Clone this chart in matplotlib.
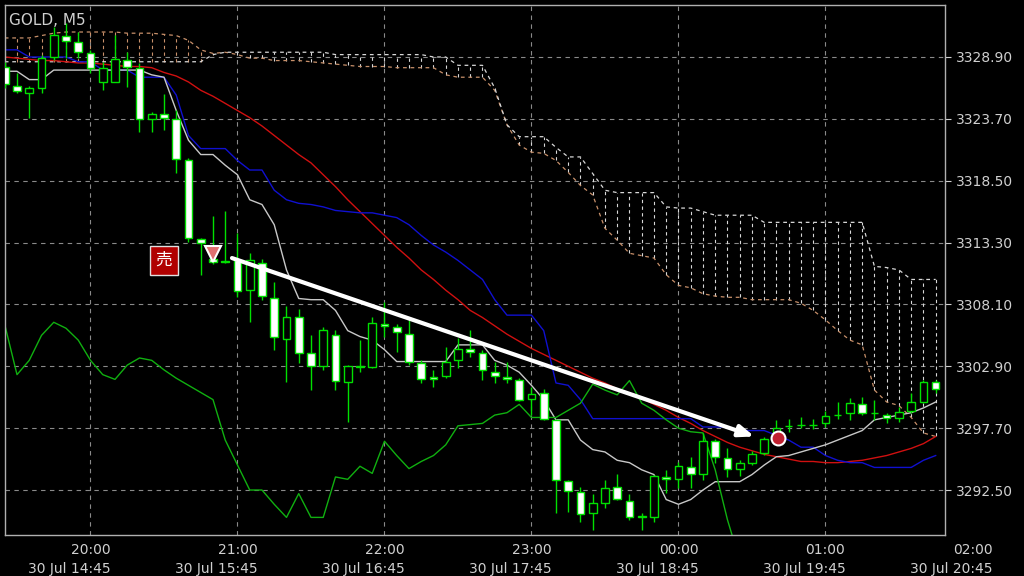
import matplotlib
matplotlib.use("Agg")
import matplotlib.pyplot as plt
import numpy as np

opens = [3328.06,3326.46,3325.87,3326.29,3328.90,3330.66,3330.16,3329.24,3326.80,3326.80,
 3328.65,3327.97,3323.69,3324.11,3323.69,3320.24,3313.60,3311.92,3311.75,3311.83,
 3309.31,3311.58,3308.64,3305.19,3307.04,3304.02,3302.92,3305.53,3301.58,3302.92,
 3302.84,3306.45,3306.20,3305.61,3303.18,3302.00,3302.08,3303.43,3304.35,3304.02,
 3302.42,3302.00,3301.75,3300.15,3300.65,3298.38,3293.26,3292.33,3290.57,3291.41,
 3292.75,3291.58,3290.23,3290.23,3293.59,3293.43,3294.43,3293.85,3296.62,3295.19,
 3294.27,3294.77,3295.61,3297.29,3297.88,3297.96,3297.96,3298.13,3298.80,3298.97,
 3299.73,3298.97,3298.80,3298.55,3299.14,3299.90,3301.58]
highs = [3328.48,3327.55,3326.46,3329.07,3331.42,3331.76,3331.00,3329.49,3328.48,3330.75,
 3329.32,3328.39,3324.28,3325.79,3324.44,3320.41,3313.68,3315.53,3315.95,3314.10,
 3312.42,3311.92,3309.98,3307.97,3307.72,3305.53,3306.20,3305.95,3303.01,3305.11,
 3307.04,3308.30,3306.45,3307.04,3303.43,3302.59,3304.52,3305.28,3305.95,3304.27,
 3303.26,3303.26,3301.92,3301.16,3300.99,3298.47,3293.34,3292.75,3292.16,3293.34,
 3293.85,3292.16,3290.57,3293.76,3294.18,3294.85,3295.27,3297.29,3296.79,3296.03,
 3295.02,3295.78,3296.96,3298.38,3298.47,3298.64,3298.47,3299.14,3299.90,3300.23,
 3300.32,3300.07,3298.97,3299.48,3300.65,3301.75,3301.75]
lows = [3326.29,3325.87,3323.77,3325.87,3328.65,3328.81,3328.81,3327.55,3326.12,3326.80,
 3326.38,3322.59,3322.59,3322.76,3319.15,3313.35,3310.57,3311.50,3311.58,3308.72,
 3306.62,3308.47,3304.27,3301.58,3303.18,3300.91,3302.59,3300.91,3298.22,3302.42,
 3302.76,3305.36,3304.10,3303.01,3301.49,3301.16,3301.92,3302.76,3303.68,3301.75,
 3301.49,3301.49,3299.98,3298.80,3298.38,3290.57,3290.65,3289.81,3289.14,3290.99,
 3291.66,3289.98,3289.14,3289.81,3292.25,3292.67,3292.67,3293.34,3294.77,3293.59,
 3293.68,3294.60,3295.44,3296.70,3297.38,3297.71,3297.63,3297.80,3298.47,3298.38,
 3298.80,3298.38,3298.13,3298.22,3298.97,3299.81,3300.65]
closes = [3326.63,3326.04,3326.29,3328.81,3330.75,3330.24,3329.32,3327.97,3327.97,3328.73,
 3328.06,3323.69,3324.11,3323.77,3320.32,3313.68,3313.26,3311.67,3311.70,3309.23,
 3311.83,3308.81,3305.36,3307.04,3304.02,3302.92,3305.95,3301.66,3302.92,3302.88,
 3306.54,3306.29,3305.78,3303.26,3301.83,3301.83,3303.26,3304.35,3304.10,3302.59,
 3302.08,3301.83,3300.07,3300.57,3298.47,3293.34,3292.42,3290.48,3291.41,3292.67,
 3291.74,3290.23,3290.28,3293.68,3293.43,3294.52,3293.85,3296.62,3295.27,3294.27,
 3294.77,3295.53,3296.79,3297.71,3297.92,3298.00,3298.00,3298.72,3298.84,3299.81,
 3298.97,3299.01,3298.55,3299.06,3299.90,3301.58,3300.99]

ma_red = [3328.9,3328.8,3328.7,3328.6,3328.6,3328.5,3328.4,3328.4,3328.3,3328.2,
 3328.1,3328.1,3328.0,3327.6,3327.3,3326.8,3326.1,3325.6,3325.0,3324.4,
 3323.8,3323.1,3322.3,3321.5,3320.7,3320.0,3319.0,3318.0,3316.9,3315.9,
 3314.9,3313.9,3312.9,3312.0,3311.0,3310.2,3309.3,3308.5,3307.6,3307.0,
 3306.3,3305.6,3305.0,3304.4,3303.9,3303.4,3302.9,3302.4,3301.9,3301.5,
 3301.0,3300.6,3300.2,3299.7,3299.2,3298.6,3298.1,3297.5,3297.0,3296.5,
 3296.1,3295.8,3295.5,3295.3,3295.1,3294.9,3294.9,3294.8,3294.8,3294.9,
 3295.0,3295.2,3295.4,3295.7,3296.0,3296.4,3297.0]
kijun = [3329.5,3329.5,3328.9,3328.9,3328.9,3328.9,3328.5,3328.5,3327.8,3327.8,
 3327.8,3327.2,3327.2,3327.2,3325.7,3322.3,3321.2,3321.2,3321.2,3320.2,
 3319.4,3319.4,3317.7,3316.9,3316.6,3316.5,3316.3,3316.0,3315.9,3315.8,
 3315.8,3315.6,3315.4,3314.8,3313.9,3313.1,3312.5,3311.8,3311.0,3310.2,
 3308.5,3307.2,3307.2,3307.2,3305.9,3301.5,3301.3,3300.1,3298.5,3298.5,
 3298.5,3298.5,3298.5,3298.5,3298.5,3298.5,3298.5,3297.8,3297.8,3297.8,
 3297.5,3297.5,3297.5,3297.1,3296.7,3296.1,3296.1,3295.4,3295.0,3294.8,
 3294.8,3294.4,3294.4,3294.4,3294.4,3295.0,3295.4]
tenkan = [3327.7,3327.7,3327.0,3327.0,3327.8,3327.8,3327.8,3327.8,3327.8,3327.8,
 3327.8,3327.8,3327.4,3327.2,3324.4,3321.9,3320.7,3320.7,3319.8,3319.0,
 3316.9,3316.5,3314.8,3311.0,3308.6,3308.5,3308.5,3307.6,3305.9,3305.4,
 3305.1,3304.3,3303.3,3303.3,3303.3,3303.3,3303.3,3304.7,3304.7,3304.7,
 3303.4,3303.0,3302.4,3301.3,3300.1,3298.4,3298.4,3296.7,3295.9,3295.7,
 3295.0,3294.8,3294.2,3293.8,3291.7,3291.3,3291.7,3292.5,3293.2,3293.2,
 3293.2,3293.8,3294.6,3295.3,3295.4,3295.7,3296.0,3296.3,3296.7,3297.1,
 3297.5,3298.4,3298.6,3298.8,3299.0,3299.4,3299.9]
chikou = [3306.4,3302.2,3303.4,3305.5,3306.6,3306.1,3305.1,3303.4,3302.2,3301.8,
 3303.0,3303.6,3303.4,3302.6,3301.9,3301.3,3300.7,3300.1,3296.7,3294.6,
 3292.5,3292.5,3291.3,3290.2,3292.2,3290.2,3290.2,3293.6,3293.4,3294.5,
 3293.9,3296.6,3295.4,3294.3,3294.9,3295.4,3296.3,3297.9,3298.0,3298.1,
 3298.8,3299.0,3299.7,3298.6,3298.6,3298.6,3299.2,3299.8,3301.4,3300.9,
 3300.5,3301.7,3299.8,3299.2,3298.4,3297.7,3297.4,3297.3,3294.2,3290.0,3286.6]
span_a = [3330.5,3330.5,3330.5,3330.7,3330.9,3331.0,3331.0,3331.0,3331.0,3331.0,
 3330.9,3330.9,3330.9,3330.8,3330.7,3330.3,3329.5,3329.2,3329.3,3329.1,
 3328.8,3328.8,3328.6,3328.6,3328.6,3328.5,3328.4,3328.3,3328.2,3328.1,
 3328.1,3328.1,3328.0,3328.0,3328.0,3328.0,3327.4,3327.2,3327.2,3327.2,
 3326.1,3323.2,3321.5,3320.9,3320.8,3320.2,3319.2,3318.1,3317.3,3314.5,
 3313.5,3312.4,3312.2,3312.0,3310.6,3309.7,3309.5,3309.0,3308.8,3308.7,
 3308.7,3308.5,3308.5,3308.5,3308.5,3308.2,3307.6,3306.8,3305.9,3305.1,
 3304.7,3300.9,3299.9,3299.6,3298.6,3297.3,3297.0]
span_b = [3328.5,3328.5,3328.5,3328.5,3328.5,3328.5,3328.5,3328.5,3328.5,3328.5,
 3328.5,3328.5,3328.5,3328.5,3328.5,3328.5,3328.5,3329.1,3329.3,3329.3,
 3329.3,3329.3,3329.3,3329.3,3329.3,3329.3,3329.3,3329.1,3329.1,3329.1,
 3329.1,3329.1,3329.1,3329.1,3329.1,3328.9,3328.9,3328.2,3328.2,3328.2,
 3326.3,3323.2,3322.2,3322.2,3322.2,3321.3,3320.5,3320.5,3319.1,3317.7,
 3317.5,3317.5,3317.5,3317.5,3316.3,3316.2,3316.2,3315.9,3315.6,3315.6,
 3315.6,3315.6,3315.0,3315.0,3315.0,3315.0,3315.0,3315.0,3315.0,3315.0,
 3315.0,3311.3,3311.2,3311.0,3310.2,3310.2,3310.2]

price_ticks = [3328.90,3323.70,3318.50,3313.30,3308.10,3302.90,3297.70,3292.50]
hour_pos = [7,19,31,43,55,67,79]
hour_labels = ["20:00","21:00","22:00","23:00","00:00","01:00","02:00"]
date_pos = [5.3,17.3,29.3,41.3,53.3,65.3,77.3]
date_labels = ["30 Jul 14:45","30 Jul 15:45","30 Jul 16:45","30 Jul 17:45",
               "30 Jul 18:45","30 Jul 19:45","30 Jul 20:45"]
arrow_start = (18.55, 3312.0)
arrow_end = (61.2, 3297.0)
sell_label_pos = (13.0, 3311.8)
sell_marker = (17.0, 3312.3)
exit_marker = (63.1, 3296.9)

GRID = "#8a8a8a"
TXT = "#d0d0d0"
fig = plt.figure(figsize=(10.24, 5.76), dpi=100, facecolor="black")
ax = fig.add_axes([5/1024, 41/576, 940/1024, 530/576], facecolor="black")
ax.set_xlim(0.02, 76.76)
ax.set_ylim(3288.72, 3333.27)

# cloud
n = len(span_a)
xs = np.arange(n)
a = np.array(span_a); b = np.array(span_b)
for i in range(n):
    col = "#c8906a" if a[i] > b[i] else "#d8d8d8"
    ax.vlines(i, min(a[i], b[i]), max(a[i], b[i]), color=col, lw=0.8,
              linestyles=(0, (3, 3)), zorder=1)
ax.plot(xs, a, color="#c8906a", lw=0.9, ls=(0, (3, 3)), zorder=1)
ax.plot(xs, b, color="#d8d8d8", lw=0.9, ls=(0, (3, 3)), zorder=1)

# grid
for p in price_ticks:
    ax.axhline(p, color=GRID, lw=0.8, ls=(0, (4, 4)), zorder=0)
for h in hour_pos[:-1]:
    ax.axvline(h, color=GRID, lw=0.8, ls=(0, (4, 4)), zorder=0)

# lines
ax.plot(np.arange(len(ma_red)), ma_red, color="#d01010", lw=1.0, zorder=2)
ax.plot(np.arange(len(kijun)), kijun, color="#1010d0", lw=1.0, zorder=2)
ax.plot(np.arange(len(tenkan)), tenkan, color="#c8c8c8", lw=1.0, zorder=2)
ax.plot(np.arange(len(chikou)), chikou, color="#10b010", lw=1.0, zorder=2)

# candles
o = np.array(opens); c = np.array(closes); hi = np.array(highs); lo = np.array(lows)
ci = np.arange(len(o))
ax.vlines(ci, lo, hi, color="#00e000", lw=1.0, zorder=3)
bear = c < o
body = np.maximum(np.abs(c - o), 0.03)
bottom = np.minimum(o, c)
ax.bar(ci[bear], body[bear], bottom=bottom[bear], width=0.62,
       facecolor="white", edgecolor="#00e000", lw=1.0, zorder=4)
ax.bar(ci[~bear], body[~bear], bottom=bottom[~bear], width=0.62,
       facecolor="black", edgecolor="#00e000", lw=1.0, zorder=4)

# annotations
ax.annotate("", xy=arrow_end, xytext=arrow_start,
            arrowprops=dict(arrowstyle="-|>,head_length=0.9,head_width=0.35",
                            color="white", lw=3, shrinkA=0, shrinkB=0), zorder=6)
ax.text(*sell_label_pos, "売", color="white", fontsize=12, ha="center", va="center",
        family=["Noto Sans CJK JP", "DejaVu Sans"], zorder=7,
        bbox=dict(boxstyle="square,pad=0.35", facecolor="#b00000", edgecolor="#e0e0e0", lw=1))
ax.plot(*sell_marker, marker="v", ms=12, mfc="#e07070", mec="white", mew=1.5, zorder=7)
ax.plot(*exit_marker, marker="o", ms=10, mfc="#c02030", mec="white", mew=1.5, zorder=7)
ax.plot(*exit_marker, marker="o", ms=4, mfc="#c02030", mec="#c02030", zorder=8)

# axes styling
for s in ax.spines.values():
    s.set_color("#b0b0b0"); s.set_linewidth(1)
ax.yaxis.tick_right()
ax.set_yticks(price_ticks)
ax.set_yticklabels([f"{p:.2f}" for p in price_ticks])
ax.tick_params(axis="y", colors=TXT, labelsize=10, length=4, direction="out", pad=4)
ax.set_xticks([])
for pos, lab in zip(hour_pos, hour_labels):
    ax.text(pos, -0.015, lab, transform=ax.get_xaxis_transform(), color=TXT,
            fontsize=10, ha="center", va="top", clip_on=False)
for pos, lab in zip(date_pos, date_labels):
    ax.text(pos, -0.05, lab, transform=ax.get_xaxis_transform(), color=TXT,
            fontsize=10, ha="center", va="top", clip_on=False)
ax.text(0.004, 0.985, "GOLD, M5", transform=ax.transAxes, color=TXT, fontsize=11,
        ha="left", va="top")

fig.savefig("out.png", dpi=100, facecolor="black")
